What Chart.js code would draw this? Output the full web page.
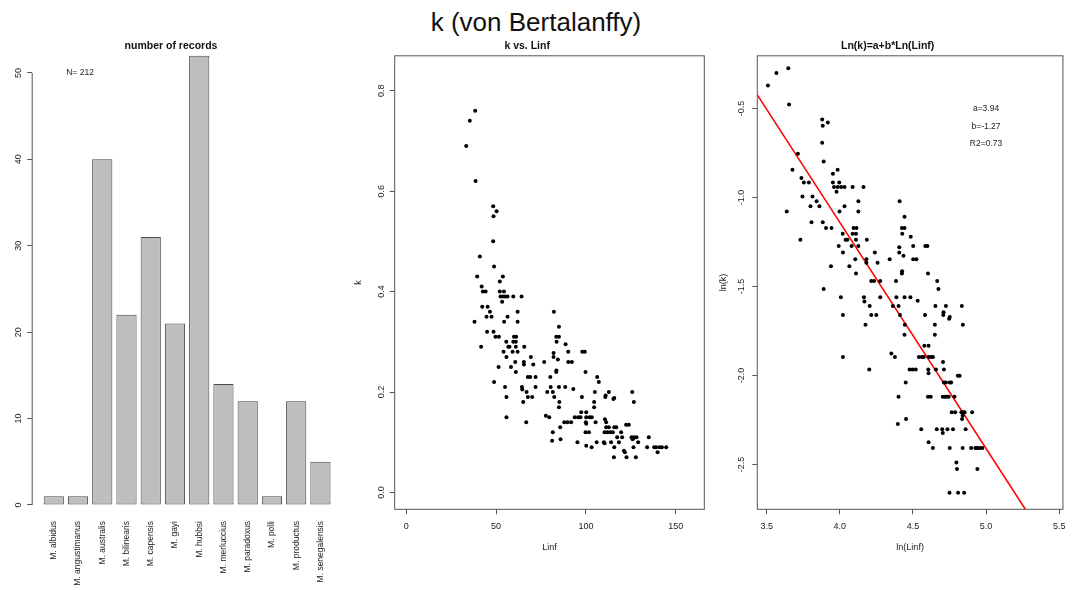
<!DOCTYPE html>
<html>
<head>
<meta charset="utf-8">
<title>k (von Bertalanffy)</title>
<script src="https://cdn.jsdelivr.net/npm/chart.js@4.4.1/dist/chart.umd.min.js"></script>
<style>
  html, body { margin: 0; padding: 0; background: #fff; }
  #page { position: relative; width: 1072px; height: 590px; overflow: hidden; }
  #page h1 {
    position: absolute; left: 0; top: 7px; width: 1072px; margin: 0;
    text-align: center; font: normal 26px/30px "Liberation Sans", Arial, sans-serif; color: #111;
  }
  canvas { position: absolute; top: 0; }
</style>
</head>
<body>
<div id="page">
  <h1>k (von Bertalanffy)</h1>
  <canvas id="records" width="352" height="590" style="left:0"></canvas>
  <canvas id="kLinf" width="362" height="590" style="left:350px"></canvas>
  <canvas id="lnFit" width="360" height="590" style="left:712px"></canvas>
</div>
<script>
// records per species
const species = ["M. albidus", "M. angustimanus", "M. australis", "M. bilinearis", "M. capensis", "M. gayi",
                 "M. hubbsi", "M. merluccius", "M. paradoxus", "M. polli", "M. productus", "M. senegalensis"];
const records = [1, 1, 40, 22, 31, 21, 52, 14, 12, 1, 12, 5];

// growth parameters, one pair per record
const linf = [
  38.4, 35.4, 33.4, 38.6, 48.4, 50.3, 48.6, 48.4, 48.9, 41.0, 39.5, 53.8, 42.0, 42.7, 44.2, 52.1,
  52.1, 54.4, 52.5, 53.8, 55.1, 56.4, 59.6, 64.2, 53.4, 42.3, 45.3, 46.6, 62.0, 44.7, 47.5, 56.4,
  38.0, 54.5, 62.0, 45.0, 48.6, 49.7, 51.6, 60.0, 61.2, 41.7, 55.7, 59.6, 61.0, 56.8, 57.5, 61.0,
  65.7, 54.2, 59.2, 62.0, 55.8, 60.7, 65.5, 65.5, 51.4, 58.3, 61.0, 69.4, 70.7, 48.9, 67.7, 69.0,
  72.0, 55.0, 64.4, 64.6, 72.0, 67.0, 55.8, 67.7, 70.1, 65.1, 55.8, 66.8,
  82.2, 85.0, 83.5, 85.0, 83.7, 88.7, 90.2, 82.0, 82.0, 84.4, 90.2, 92.2, 76.8, 98.0, 99.4, 83.5,
  83.6, 99.8, 80.2, 106.3, 107.2, 80.4, 85.0, 88.5, 78.5, 81.6, 93.0, 82.4, 85.2, 85.0, 97.8, 105.0,
  104.6, 104.6, 110.8, 111.0, 112.8, 115.3, 115.8, 125.8, 126.7, 77.7, 79.6, 81.6, 81.2, 85.7, 85.9, 88.0,
  89.8, 91.8, 93.8, 95.7, 97.4, 100.2, 97.0, 100.2, 102.0, 103.3, 100.0, 100.2, 105.4, 95.3, 99.8, 101.7,
  100.2, 103.2, 106.0, 110.0, 110.4, 110.6, 111.3, 111.3, 112.8, 110.4, 111.9, 113.5, 115.0, 114.0, 115.8, 116.9,
  115.8, 115.6, 117.4, 118.4, 119.6, 120.2, 121.2, 121.7, 122.4, 123.9, 122.6, 125.4, 126.0, 126.5, 126.7, 126.5,
  127.8, 128.2, 129.1, 134.1, 135.0, 138.0, 139.1, 141.0, 142.3, 144.7, 139.9
];
const kValues = [
  0.76, 0.74, 0.69, 0.62, 0.57, 0.56, 0.55, 0.50, 0.45, 0.47, 0.43, 0.43, 0.41, 0.40, 0.40, 0.42,
  0.40, 0.40, 0.39, 0.39, 0.39, 0.39, 0.39, 0.39, 0.38, 0.37, 0.37, 0.36, 0.36, 0.35, 0.35, 0.35,
  0.34, 0.34, 0.34, 0.32, 0.32, 0.31, 0.31, 0.31, 0.31, 0.29, 0.30, 0.30, 0.30, 0.29, 0.29, 0.29,
  0.29, 0.28, 0.28, 0.28, 0.27, 0.26, 0.26, 0.255, 0.25, 0.25, 0.24, 0.27, 0.255, 0.22, 0.23, 0.23,
  0.23, 0.21, 0.21, 0.205, 0.21, 0.20, 0.19, 0.19, 0.19, 0.18, 0.15, 0.14,
  0.36, 0.33, 0.31, 0.31, 0.30, 0.295, 0.28, 0.278, 0.27, 0.265, 0.26, 0.26, 0.26, 0.28, 0.28, 0.24,
  0.243, 0.24, 0.23, 0.23, 0.22, 0.21, 0.21, 0.21, 0.20, 0.20, 0.206, 0.19, 0.18, 0.17, 0.19, 0.20,
  0.18, 0.17, 0.19, 0.193, 0.20, 0.186, 0.188, 0.20, 0.18, 0.153, 0.15, 0.12, 0.103, 0.13, 0.106, 0.14,
  0.14, 0.14, 0.15, 0.15, 0.16, 0.16, 0.15, 0.15, 0.15, 0.15, 0.14, 0.137, 0.14, 0.10, 0.12, 0.12,
  0.093, 0.09, 0.10, 0.10, 0.098, 0.146, 0.14, 0.13, 0.13, 0.12, 0.12, 0.12, 0.12, 0.10, 0.13, 0.13,
  0.09, 0.07, 0.11, 0.10, 0.12, 0.11, 0.083, 0.08, 0.135, 0.135, 0.07, 0.11, 0.106, 0.108, 0.11, 0.09,
  0.07, 0.11, 0.10, 0.09, 0.11, 0.09, 0.09, 0.09, 0.09, 0.09, 0.08
];

// ln(k) = a + b * ln(Linf)
const fitA = 3.94;
const fitB = -1.27;
const fitR2 = 0.73;

const recordTicks = [0, 10, 20, 30, 40, 50];
const linfTicks = [0, 50, 100, 150];
const kTicks = [0, 0.2, 0.4, 0.6, 0.8];
const lnLinfTicks = [3.5, 4.0, 4.5, 5.0, 5.5];
const lnKTicks = [-2.5, -2.0, -1.5, -1.0, -0.5];

Chart.defaults.font.family = '"Liberation Sans", Arial, Helvetica, sans-serif';
Chart.defaults.font.size = 9;
Chart.defaults.color = '#222';

const INK = '#555';

const fixedWidth = w => s => { s.width = w; };
const fixedHeight = h => s => { s.height = h; };
const tickAt = values => s => { s.ticks = values.map(v => ({ value: v })); };
const oneDecimal = v => v.toFixed(1);

// box around the plot region
const frame = {
  id: 'frame',
  afterDatasetsDraw(chart) {
    const { ctx, chartArea: a } = chart;
    ctx.save();
    ctx.strokeStyle = INK;
    ctx.lineWidth = 1;
    ctx.strokeRect(a.left, a.top, a.width, a.height);
    ctx.restore();
  }
};

// y axis line that only spans the first to the last tick
const tickSpan = {
  id: 'tickSpan',
  afterDatasetsDraw(chart) {
    const { ctx, chartArea: a, scales: { y } } = chart;
    const t = y.ticks;
    ctx.save();
    ctx.strokeStyle = INK;
    ctx.lineWidth = 1;
    ctx.beginPath();
    ctx.moveTo(a.left, y.getPixelForValue(t[0].value));
    ctx.lineTo(a.left, y.getPixelForValue(t[t.length - 1].value));
    ctx.stroke();
    ctx.restore();
  }
};

// free text placed at data coordinates
const notes = {
  id: 'notes',
  afterDraw(chart, args, opts) {
    const { ctx, scales: { x, y } } = chart;
    ctx.save();
    ctx.font = '8.5px "Liberation Sans", Arial, sans-serif';
    ctx.fillStyle = '#222';
    ctx.textAlign = 'center';
    ctx.textBaseline = 'middle';
    (opts.items || []).forEach(n => ctx.fillText(n.text, x.getPixelForValue(n.x), y.getPixelForValue(n.y)));
    ctx.restore();
  }
};

function panelTitle(text, top, bottom) {
  return { display: true, text, color: '#111', font: { size: 10.5, weight: 'bold' }, padding: { top, bottom } };
}

function yAxis(min, max, ticks, width, pad, fmt, title, titlePad) {
  return {
    type: 'linear', min, max, bounds: 'data',
    afterBuildTicks: tickAt(ticks),
    afterFit: fixedWidth(width),
    border: { display: false },
    grid: { display: true, drawOnChartArea: false, drawTicks: true, tickLength: 5, color: INK },
    ticks: { minRotation: 90, maxRotation: 90, crossAlign: 'center', padding: pad, autoSkip: false, callback: fmt },
    title: title ? { display: true, text: title, padding: { top: titlePad } } : { display: false }
  };
}

function xAxis(min, max, ticks, fmt, title) {
  return {
    type: 'linear', min, max, bounds: 'data', offset: false,
    afterBuildTicks: tickAt(ticks),
    afterFit: fixedHeight(80.7),
    border: { display: false },
    grid: { display: true, drawOnChartArea: false, drawTicks: true, tickLength: 5, color: INK },
    ticks: { maxRotation: 0, padding: 6.5, autoSkip: false, callback: fmt },
    title: { display: true, text: title, padding: { bottom: 37.5 } }
  };
}

const base = { responsive: false, animation: false, devicePixelRatio: 1 };
const quiet = { legend: { display: false }, tooltip: { enabled: false } };
const nRecords = records.reduce((s, n) => s + n, 0);

// number of records per species
new Chart(document.getElementById('records'), {
  type: 'bar',
  data: {
    datasets: [{
      data: records.map((n, i) => ({ x: 0.7 + 1.2 * i, y: n })),
      backgroundColor: '#bebebe',
      borderColor: '#4a4a4a',
      borderWidth: 1,
      borderSkipped: false,
      categoryPercentage: 1,
      barPercentage: 1 / 1.2,
      clip: false
    }]
  },
  options: {
    ...base,
    layout: { padding: { left: 0, right: 10, top: 0, bottom: 0 } },
    plugins: {
      ...quiet,
      title: panelTitle('number of records', 39.7, 3.5),
      notes: { items: [{ x: 2, y: 50, text: 'N= ' + nRecords }] }
    },
    scales: {
      x: {
        type: 'linear', min: -0.368, max: 14.968, bounds: 'data', offset: false,
        afterBuildTicks: s => { s.ticks = species.map((_, i) => ({ value: 0.7 + 1.2 * i })); },
        afterFit: fixedHeight(80.7),
        border: { display: false },
        grid: { display: false, drawTicks: false },
        ticks: { minRotation: 90, maxRotation: 90, autoSkip: false, padding: 11.7,
                 font: { size: 8.5 }, callback: (v, i) => species[i] }
      },
      y: yAxis(-0.5, 51.98, recordTicks, 32.2, 3.2, v => String(v))
    }
  },
  plugins: [tickSpan, notes]
});

// k against Linf
new Chart(document.getElementById('kLinf'), {
  type: 'scatter',
  data: {
    datasets: [{
      data: linf.map((L, i) => ({ x: L, y: kValues[i] })),
      pointRadius: 2,
      pointBackgroundColor: '#000',
      pointBorderWidth: 0
    }]
  },
  options: {
    ...base,
    layout: { padding: { left: 0, right: 7.7, top: 0, bottom: 0 } },
    plugins: { ...quiet, title: panelTitle('k vs. Linf', 40, 3.2) },
    scales: {
      x: xAxis(-6.4, 165.9, linfTicks, v => String(v), 'Linf'),
      y: yAxis(-0.0334, 0.8694, kTicks, 44.7, 1.8, oneDecimal, 'k', 3.1)
    }
  },
  plugins: [frame]
});

// log-log fit
const lnXMin = 3.436, lnXMax = 5.526;
new Chart(document.getElementById('lnFit'), {
  type: 'scatter',
  data: {
    datasets: [{
      data: linf.map((L, i) => ({ x: Math.log(L), y: Math.log(kValues[i]) })),
      pointRadius: 2,
      pointBackgroundColor: '#000',
      pointBorderWidth: 0
    }, {
      type: 'line',
      data: [lnXMin, lnXMax].map(x => ({ x, y: fitA + fitB * x })),
      showLine: true,
      borderColor: '#ff0000',
      borderWidth: 1.6,
      pointRadius: 0,
      clip: 0
    }]
  },
  options: {
    ...base,
    layout: { padding: { left: 0, right: 8.7, top: 0, bottom: 0 } },
    plugins: {
      ...quiet,
      title: panelTitle('Ln(k)=a+b*Ln(Linf)', 40, 3.2),
      notes: { items: [
        { x: 5.0, y: -0.5, text: 'a=' + fitA.toFixed(2) },
        { x: 5.0, y: -0.6, text: 'b=' + fitB.toFixed(2) },
        { x: 5.0, y: -0.7, text: 'R2=' + fitR2.toFixed(2) }
      ] }
    },
    scales: {
      x: xAxis(lnXMin, lnXMax, lnLinfTicks, oneDecimal, 'ln(Linf)'),
      y: yAxis(-2.752, -0.2045, lnKTicks, 45.3, 2.8, oneDecimal, 'ln(k)', 5.9)
    }
  },
  plugins: [frame, notes]
});
</script>
</body>
</html>
